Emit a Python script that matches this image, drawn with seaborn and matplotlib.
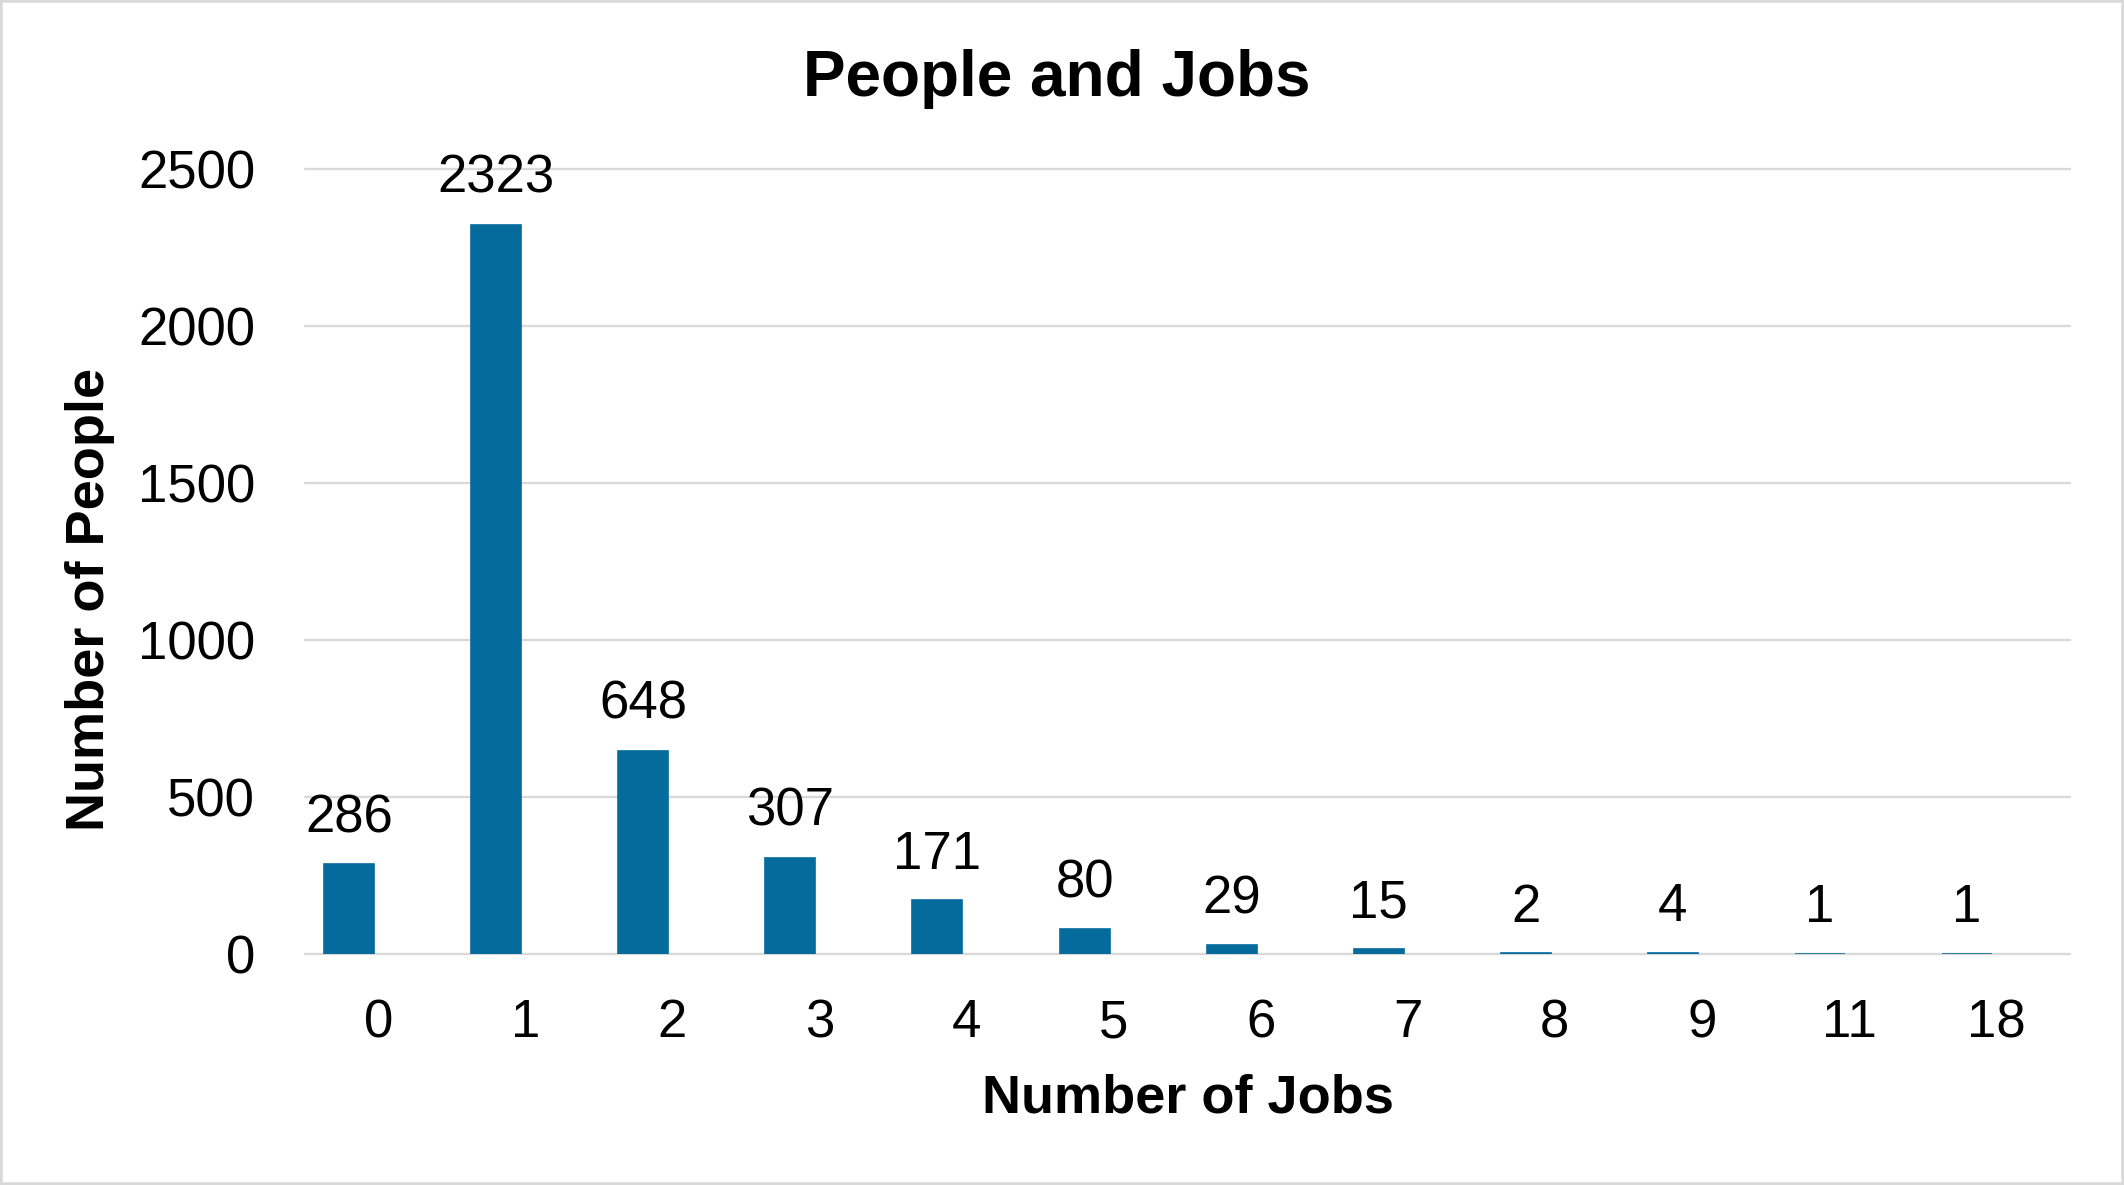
import matplotlib
matplotlib.use("Agg")
import matplotlib.pyplot as plt
import matplotlib.transforms as mtransforms
from matplotlib.patches import Rectangle
import seaborn as sns
import pandas as pd

# data
jobs = ["0", "1", "2", "3", "4", "5", "6", "7", "8", "9", "11", "18"]
people = [286, 2323, 648, 307, 171, 80, 29, 15, 2, 4, 1, 1]
y_ticks = [0, 500, 1000, 1500, 2000, 2500]

df = pd.DataFrame({"jobs": jobs, "people": people})

sns.set_theme(style="white")
plt.rcParams["font.family"] = ["Liberation Sans", "DejaVu Sans"]
plt.rcParams["text.color"] = "black"

fig = plt.figure(figsize=(21.24, 11.85), dpi=100)
ax = fig.add_axes([0.1436, 0.1949, 0.8310, 0.6625])

bar_col = "#056A9C"
sns.barplot(data=df, x="jobs", y="people", order=jobs, color=bar_col,
            saturation=1, width=0.34, edgecolor=bar_col, linewidth=1.2, ax=ax)

ax.set_xlim(-0.3, 11.7)
ax.set_ylim(0, 2500)
ax.set_yticks(y_ticks)
ax.set_xlabel("")
ax.set_ylabel("")

ax.set_axisbelow(True)
ax.yaxis.grid(True, color="#D9D9D9", linewidth=1.7)
for gl in ax.get_ygridlines():
    gl.set_clip_on(False)
for s in ax.spines.values():
    s.set_visible(False)

ax.tick_params(axis="x", length=0, pad=32, labelsize=38, labelcolor="black")
ax.tick_params(axis="y", length=0, pad=36, labelsize=38, labelcolor="black")

# tick labels sit a bit right of the bars, like the original
shift = mtransforms.ScaledTranslation(0.29, 0, fig.dpi_scale_trans)
for lab in ax.get_xticklabels():
    lab.set_transform(lab.get_transform() + shift)

ax.bar_label(ax.containers[0], labels=[str(v) for v in people],
             padding=15, fontsize=38, color="black")

fig.text(0.4977, 0.919, "People and Jobs", ha="center", va="baseline",
         fontsize=46, fontweight="bold", color="black")
fig.text(0.5593, 0.0608, "Number of Jobs", ha="center", va="baseline",
         fontsize=39, fontweight="bold", color="black")
fig.text(0.0426, 0.4945, "Number of People", ha="center", va="center",
         rotation=90, fontsize=39, fontweight="bold", color="black")

fig.patches.append(Rectangle((0, 0), 1, 1, transform=fig.transFigure,
                             fill=False, edgecolor="#D9D9D9", linewidth=4))

fig.savefig("out.png", dpi=100)
